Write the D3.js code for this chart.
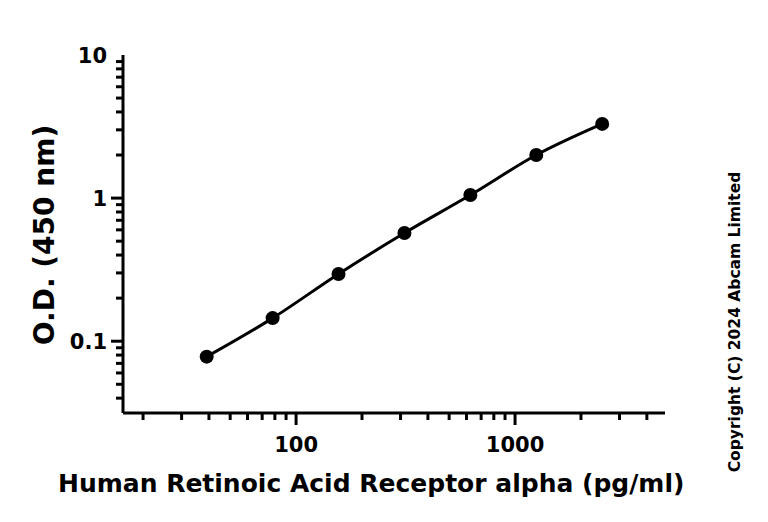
<!DOCTYPE html>
<html><head><meta charset="utf-8">
<script src="https://cdn.jsdelivr.net/npm/d3@7"></script>
<style>body{margin:0;background:#fff;overflow:hidden}text{font-family:"DejaVu Sans",sans-serif;font-weight:bold}</style>
</head><body><svg width="768" height="522"></svg>
<script>
var conc = [39.06, 78.13, 156.25, 312.5, 625, 1250, 2500];
var od = [0.078, 0.145, 0.295, 0.57, 1.05, 2.0, 3.3];
var yMajor = [0.1, 1, 10];
var xMajor = [100, 1000];

var svg = d3.select("svg");
var x = d3.scaleLog().domain([16.2, 4840]).range([123, 665]);
var y = d3.scaleLog().domain([0.0315, 10]).range([413, 55]);

var xMinor = [];
[10, 100, 1000].forEach(function (b) { for (var i = 1; i < 10; i++) { var v = b * i; if (v >= 20 && v <= 4840) xMinor.push(v); } });
var yMinor = [];
[0.01, 0.1, 1].forEach(function (b) { for (var i = 1; i < 10; i++) { var v = b * i; if (v >= 0.04 && v <= 10) yMinor.push(v); } });

var ax = svg.append("g").attr("stroke", "#000").attr("stroke-width", 3);
ax.append("line").attr("x1", 123).attr("x2", 665).attr("y1", 413).attr("y2", 413);
ax.append("line").attr("x1", 123).attr("x2", 123).attr("y1", 413).attr("y2", 55);
ax.selectAll(".xt").data(xMinor).enter().append("line")
  .attr("x1", function (d) { return x(d); }).attr("x2", function (d) { return x(d); })
  .attr("y1", 413).attr("y2", function (d) { return xMajor.indexOf(d) >= 0 ? 425 : 420; });
ax.selectAll(".yt").data(yMinor).enter().append("line")
  .attr("y1", function (d) { return y(d); }).attr("y2", function (d) { return y(d); })
  .attr("x1", 123).attr("x2", function (d) { return yMajor.indexOf(d) >= 0 ? 111 : 116; });

svg.selectAll(".xl").data(xMajor).enter().append("text")
  .attr("x", function (d) { return x(d); }).attr("y", 452).attr("text-anchor", "middle")
  .attr("font-size", 21).text(function (d) { return d; });
svg.selectAll(".yl").data(yMajor).enter().append("text")
  .attr("x", 107).attr("y", function (d) { return y(d) + 8; }).attr("text-anchor", "end")
  .attr("font-size", 21).text(function (d) { return d; });

var line = d3.line().x(function (d, i) { return x(conc[i]); }).y(function (d) { return y(d); }).curve(d3.curveMonotoneX);
svg.append("path").datum(od).attr("d", line).attr("fill", "none").attr("stroke", "#000").attr("stroke-width", 3);
svg.selectAll(".pt").data(od).enter().append("circle")
  .attr("cx", function (d, i) { return x(conc[i]); }).attr("cy", function (d) { return y(d); })
  .attr("r", 7).attr("fill", "#000");

svg.append("text").attr("x", 58).attr("y", 492).attr("font-size", 25)
  .text("Human Retinoic Acid Receptor alpha (pg/ml)");
svg.append("text").attr("transform", "translate(54,235) rotate(-90)").attr("text-anchor", "middle").attr("font-size", 28)
  .text("O.D. (450 nm)");
svg.append("text").attr("transform", "translate(740,322) rotate(-90)").attr("text-anchor", "middle").attr("font-size", 15.5)
  .text("Copyright (C) 2024 Abcam Limited");
</script></body></html>
